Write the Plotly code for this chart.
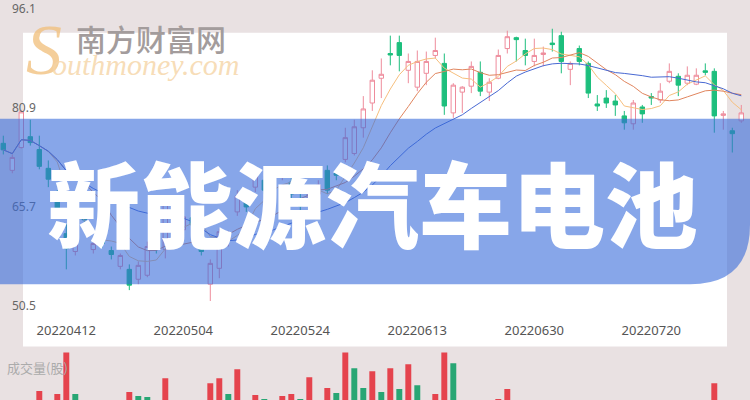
import plotly.graph_objects as go
import pandas as pd

# ---------------- data ----------------
tick_idx = [7, 20, 33, 46, 59, 72]
tick_dates = ["20220412", "20220504", "20220524", "20220613", "20220630", "20220720"]
price_ticks = [50.5, 65.7, 80.9, 96.1]

open_ = [75.47, 71.32, 74.82, 76.49, 74.52, 71.63, 67.22, 61.60, 58.86, 64.48,
         59.16, 60.84, 59.01, 56.58, 56.12, 54.60, 55.21, 60.38, 59.16, 65.70,
         62.20, 64.03, 59.77, 53.84, 56.28, 60.69, 64.94, 67.22, 68.74, 69.80,
         67.98, 70.41, 69.50, 66.92, 66.16, 67.68, 71.32, 70.87, 73.00, 73.91,
         77.86, 81.66, 85.46, 89.26, 90.93, 86.68, 84.09, 86.22, 88.96, 87.74,
         80.14, 83.33, 84.24, 86.37, 83.33, 85.46, 90.02, 91.69, 89.72, 88.04,
         89.11, 90.86, 92.00, 86.83, 90.02, 87.74, 81.51, 82.42, 81.96, 79.68,
         78.47, 81.05, 82.65, 82.12, 85.00, 85.76, 84.70, 84.55, 86.60, 86.52,
         79.76, 77.40, 78.92]
high = [76.64, 73.76, 80.60, 79.08, 76.64, 72.84, 68.28, 63.12, 60.69, 65.24,
        60.69, 61.60, 59.62, 58.55, 56.88, 57.34, 60.38, 61.14, 67.22, 66.46,
        64.94, 64.64, 60.38, 57.64, 62.36, 62.05, 68.28, 67.98, 71.78, 70.41,
        70.11, 71.93, 70.11, 67.68, 68.28, 69.80, 72.08, 71.48, 77.86, 79.08,
        82.72, 86.68, 88.50, 92.00, 92.00, 89.26, 89.72, 89.56, 91.69, 89.26,
        84.70, 84.24, 88.04, 88.04, 85.46, 89.87, 92.76, 91.84, 91.54, 91.54,
        90.32, 93.06, 92.60, 88.04, 90.48, 88.04, 82.88, 83.64, 82.88, 80.44,
        82.12, 81.36, 83.18, 84.70, 87.74, 86.22, 87.28, 86.98, 87.74, 86.98,
        80.44, 77.86, 81.36]
low = [73.76, 70.87, 74.67, 75.12, 71.48, 68.74, 64.64, 56.12, 58.25, 62.66,
       58.55, 59.47, 57.64, 56.12, 52.93, 53.84, 54.91, 58.55, 57.80, 61.90,
       61.60, 62.20, 58.25, 51.26, 54.76, 59.62, 64.33, 64.94, 67.98, 67.68,
       67.37, 69.80, 67.07, 64.94, 65.55, 67.07, 67.68, 69.80, 72.54, 73.60,
       76.34, 80.44, 82.42, 87.44, 86.52, 84.70, 83.48, 84.40, 88.50, 79.84,
       79.38, 80.14, 83.18, 82.72, 81.96, 85.31, 89.26, 88.04, 87.44, 87.28,
       87.28, 89.56, 86.22, 84.40, 87.44, 82.42, 80.44, 80.90, 79.68, 77.56,
       77.56, 78.62, 81.36, 81.66, 84.70, 82.72, 84.40, 84.40, 85.92, 77.10,
       77.56, 74.06, 78.62]
close = [74.47, 73.30, 80.29, 75.58, 71.93, 69.96, 65.24, 59.30, 60.08, 63.72,
         60.08, 60.08, 58.40, 58.25, 53.69, 56.73, 59.62, 59.47, 66.76, 62.66,
         64.18, 62.96, 58.86, 57.04, 61.90, 61.44, 67.37, 65.70, 70.72, 68.28,
         69.50, 71.32, 67.68, 65.85, 67.68, 69.04, 68.28, 70.56, 76.34, 78.01,
         80.75, 85.16, 86.07, 89.03, 88.96, 88.04, 88.04, 88.04, 89.72, 81.20,
         84.40, 84.09, 87.28, 83.48, 84.85, 88.96, 91.84, 91.39, 88.96, 88.96,
         89.34, 90.63, 88.04, 87.74, 88.04, 83.18, 81.20, 81.66, 81.36, 78.62,
         81.66, 79.99, 82.42, 83.48, 86.52, 84.40, 85.92, 85.92, 86.37, 79.68,
         79.99, 76.95, 80.14]
volume = [90, 84, 112, 96, 138, 105, 132, 216, 132, 98,
          88, 80, 92, 104, 136, 128, 126, 108, 164, 112,
          100, 94, 110, 154, 164, 132, 182, 114, 130, 122,
          106, 128, 132, 122, 166, 116, 144, 134, 216, 184,
          144, 178, 136, 184, 142, 192, 150, 118, 132, 216,
          194, 112, 116, 108, 104, 122, 142, 110, 96, 102,
          88, 106, 114, 92, 86, 112, 90, 78, 84, 96,
          100, 82, 74, 88, 102, 90, 84, 80, 76, 154,
          98, 110, 94]
volume_up = [0, 1, 1, 0, 1, 0, 1, 1, 0, 0,
             1, 0, 0, 1, 1, 0, 0, 0, 1, 0,
             1, 0, 0, 1, 1, 0, 1, 0, 1, 0,
             1, 1, 1, 0, 1, 1, 1, 0, 1, 0,
             0, 1, 0, 1, 0, 1, 0, 1, 1, 1,
             0, 1, 1, 0, 1, 1, 1, 0, 0, 1,
             1, 0, 0, 1, 0, 0, 0, 0, 0, 0,
             1, 0, 0, 1, 1, 0, 1, 1, 0, 1,
             1, 0, 1]

idx = list(range(len(close)))
cs = pd.Series(close)
ma5 = cs.rolling(5, min_periods=1).mean()
ma10 = cs.rolling(10, min_periods=1).mean()
ma20 = cs.rolling(20, min_periods=1).mean()

W, H = 750, 400
def px(x):
    return x / W
def py(y):
    return 1 - y / H

UP = "#ee8c9c"
DN = "#1dbf7d"
VUP = "#e5434d"
VDN = "#28a674"

fig = go.Figure()
fig.add_trace(go.Candlestick(
    x=idx, open=open_, high=high, low=low, close=close,
    increasing=dict(line=dict(color=UP, width=1), fillcolor="#ffffff"),
    decreasing=dict(line=dict(color=DN, width=1), fillcolor=DN),
    whiskerwidth=0, showlegend=False, hoverinfo="skip",
    xaxis="x", yaxis="y"))
for ma, col in [(ma5, "#f6bf7e"), (ma10, "#e0855e"), (ma20, "#4868d2")]:
    fig.add_trace(go.Scatter(x=idx, y=ma, mode="lines",
                             line=dict(color=col, width=1),
                             showlegend=False, hoverinfo="skip",
                             xaxis="x", yaxis="y"))
fig.add_trace(go.Bar(x=idx, y=volume,
                     marker=dict(color=[VUP if u else VDN for u in volume_up], line=dict(width=0)),
                     width=0.66, showlegend=False, hoverinfo="skip",
                     xaxis="x2", yaxis="y2"))

xr = [-3.3 / 9, (W - 3.3) / 9]
fig.update_layout(
    width=W, height=H,
    margin=dict(l=0, r=0, t=0, b=0),
    paper_bgcolor="#e9e1e2",
    plot_bgcolor="rgba(0,0,0,0)",
    boxgap=0.3,
    xaxis=dict(domain=[0, 1], range=xr, anchor="y",
               tickvals=tick_idx, ticktext=tick_dates,
               showgrid=False, zeroline=False, showline=False, ticks="",
               rangeslider=dict(visible=False),
               tickfont=dict(family="Noto Sans", size=13, color="#555555")),
    yaxis=dict(domain=[py(320), 1], range=[96.86 - 320 * 0.152, 96.86], anchor="x",
               tickvals=price_ticks, ticktext=[str(v) for v in price_ticks],
               ticklabelposition="inside", ticklabelstandoff=9,
               ticklabeloverflow="allow",
               showgrid=False, zeroline=False, showline=False, ticks="",
               tickfont=dict(family="Noto Sans", size=12, color="#666666")),
    xaxis2=dict(domain=[0, 1], range=xr, anchor="y2", visible=False),
    yaxis2=dict(domain=[0, py(348)], range=[120, 224], anchor="x2", visible=False),
    shapes=[
        dict(type="rect", xref="paper", yref="paper",
             x0=px(23), x1=px(727), y0=py(346), y1=py(29),
             fillcolor="#ffffff", line=dict(width=0), layer="below"),
        dict(type="path", xref="paper", yref="paper",
             path=(f"M 0 {py(116)} L 1 {py(116)} L 1 {py(223)} "
                   f"Q 1 {py(283)} {px(690)} {py(283)} L 0 {py(283)} Z"),
             fillcolor="rgba(55,107,218,0.6)", line=dict(width=0), layer="above"),
    ],
    annotations=[
        dict(text="新能源汽车电池", x=px(372), y=py(198), xref="paper", yref="paper",
             xanchor="center", yanchor="middle", showarrow=False,
             font=dict(family="Noto Sans CJK SC", size=93, color="#ffffff", weight=900)),
        dict(text="南方财富网", x=px(151), y=py(34), xref="paper", yref="paper",
             xanchor="center", yanchor="middle", showarrow=False,
             font=dict(family="Noto Sans CJK SC", size=30, color="#a39c9c", weight=500)),
        dict(text="<i>S</i>", x=px(44), y=py(46), xref="paper", yref="paper",
             xanchor="center", yanchor="middle", showarrow=False,
             font=dict(family="Liberation Serif", size=72, color="rgba(240,190,120,0.75)")),
        dict(text="<i>outhmoney.com</i>", x=px(145), y=py(61), xref="paper", yref="paper",
             xanchor="center", yanchor="middle", showarrow=False,
             font=dict(family="Liberation Serif", size=30, color="rgba(245,212,165,0.8)")),
        dict(text="成交量(股)", x=px(5), y=py(367), xref="paper", yref="paper",
             xanchor="left", yanchor="middle", showarrow=False,
             font=dict(family="Noto Sans CJK SC", size=13, color="#ababab")),
    ],
)

fig.write_html("out.html",
               config={"displayModeBar": False},
               post_script="document.body.style.margin='0';document.body.style.padding='0';"
                           "document.documentElement.style.overflow='hidden';")
